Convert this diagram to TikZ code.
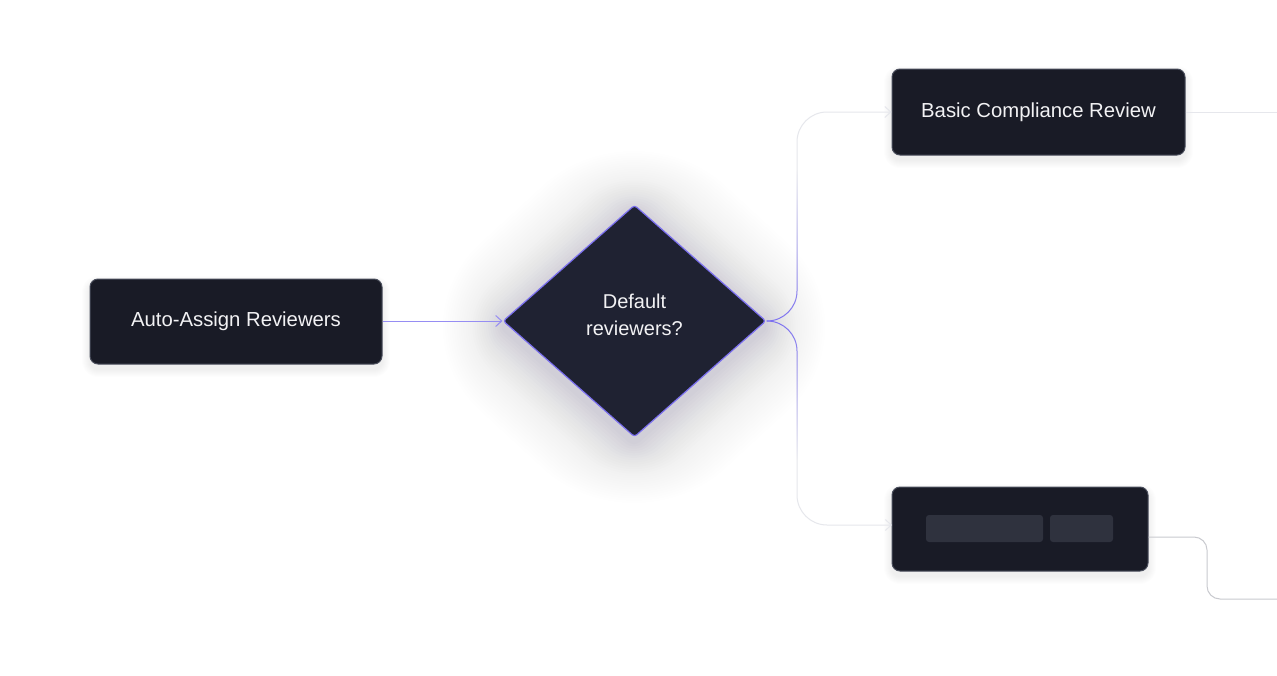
\documentclass[tikz,border=0pt]{standalone}
\usepackage{fontspec}
\setmainfont{Liberation Sans}
\usetikzlibrary{shapes.geometric,arrows.meta,fadings}
\definecolor{boxfill}{HTML}{191B26}
\definecolor{boxdraw}{HTML}{4A4E5C}
\definecolor{diafill}{HTML}{1F2232}
\definecolor{accent}{HTML}{7C70F0}
\definecolor{faint}{HTML}{E6E7EC}
\definecolor{grayline}{HTML}{C9CACF}
\definecolor{placeholder}{HTML}{2F323E}
\definecolor{glow}{HTML}{34306A}
\definecolor{txt}{HTML}{F2F2F4}
\tikzset{
  procbox/.style={rectangle, rounded corners=8pt, fill=boxfill, draw=boxdraw, line width=1pt,
    text=txt, font=\fontsize{20.3}{24}\selectfont, inner sep=0pt},
  decision/.style={diamond, fill=diafill, draw=accent, line width=1.2pt, rounded corners=3pt,
    inner sep=0pt, minimum width=263pt, minimum height=232pt},
  ph/.style={rectangle, rounded corners=3pt, fill=placeholder, inner sep=0pt},
  tip/.style={-{Straight Barb[length=6pt,width=11pt]}},
  conn/.style={line width=1pt, rounded corners=30pt},
}
\begin{document}
\begin{tikzpicture}[x=1pt,y=-1pt]
\useasboundingbox[fill=white] (0,0) rectangle (1277,675);
% glow around diamond
\foreach \d in {150,147,...,1} {
  \pgfmathsetmacro{\op}{0.019*exp(-\d/36)}
  \fill[glow, opacity=\op, rounded corners=\d pt*1.5+3pt]
    (634-131.5-\d*1.4, 327) -- (634, 327-116-\d*1.35) -- (634+131.5+\d*1.4, 327) -- (634, 327+116+\d*1.35) -- cycle;
}
% soft box shadows
\foreach \d in {1,2,...,8} {
  \fill[black, opacity=0.007, rounded corners=8pt+\d pt] (90-\d, 284-\d) rectangle (382+\d, 369+\d);
  \fill[black, opacity=0.007, rounded corners=8pt+\d pt] (892-\d, 74-\d) rectangle (1185+\d, 160+\d);
  \fill[black, opacity=0.007, rounded corners=8pt+\d pt] (892-\d, 492-\d) rectangle (1148+\d, 576+\d);
}
\node[procbox, minimum width=292pt, minimum height=85pt] (auto) at (236,321.5) {Auto-Assign Reviewers};
\node[decision] (dec) at (634.5,321) {};
\node[text=txt, font=\fontsize{20}{27}\selectfont, align=center, inner sep=0pt, anchor=base] (dectext) at (634.5,335) {Default\\reviewers?};
\node[procbox, minimum width=293pt, minimum height=86pt] (basic) at (1038.5,112) {Basic Compliance Review};
\node[procbox, minimum width=256pt, minimum height=84pt] (other) at (1020,529) {};
\node[ph, minimum width=117pt, minimum height=27pt] (ph1) at (984.5,528.5) {};
\node[ph, minimum width=63pt, minimum height=27pt] (ph2) at (1081.5,528.5) {};
\coordinate (topend) at (1277,112);
\coordinate (botend) at (1277,599);
\coordinate (ub) at (797,321);
% connectors
\draw[accent!80, line width=1pt, tip] (auto.east |- dec.west) -- (dec.west);
\draw[faint, conn, tip] (dec.east) -- (ub) -- (797,112) -- (basic.west);
\draw[faint, conn, tip] (dec.east) -- (ub) -- (797,525) -- (892,525);
\draw[accent, line width=1pt, rounded corners=30pt, path fading=north] (dec.east) -- (ub) -- (797,170);
\draw[accent, line width=1pt, rounded corners=30pt, path fading=south] (dec.east) -- (ub) -- (797,460);
\draw[faint, line width=1pt] (basic.east) -- (topend);
\draw[grayline, line width=1pt, rounded corners=13pt] (other.east |- 0,537) -- (1207,537) -- (1207,599) -- (botend);
\end{tikzpicture}
\end{document}
